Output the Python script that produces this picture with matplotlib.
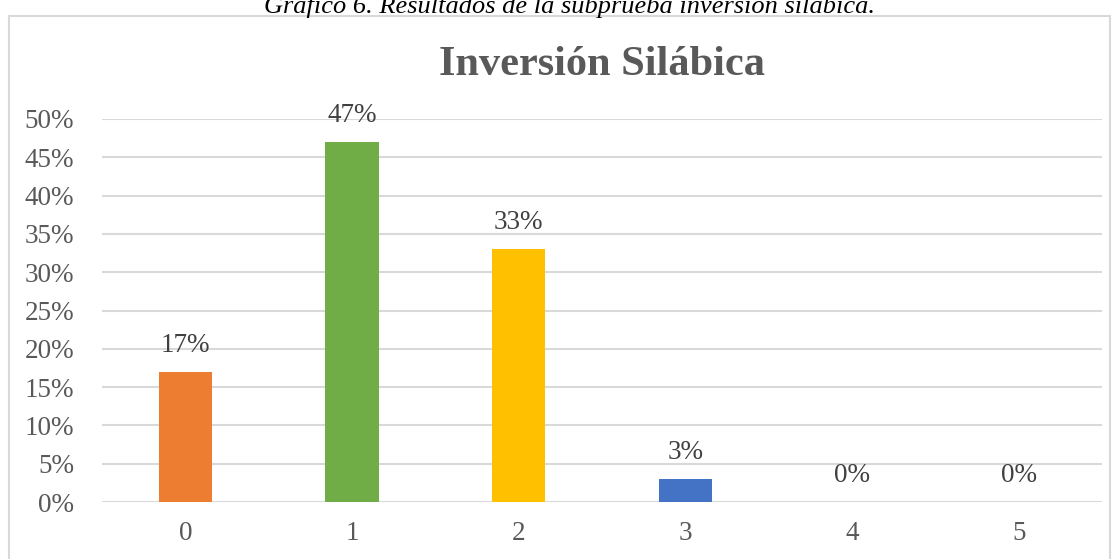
import matplotlib.pyplot as plt
from matplotlib.patches import Rectangle

# data
categories = ["0", "1", "2", "3", "4", "5"]
values = [17, 47, 33, 3, 0, 0]
bar_colors = ["#ED7D31", "#70AD47", "#FFC000", "#4472C4", "#A5A5A5", "#5B9BD5"]
y_ticks = [0, 5, 10, 15, 20, 25, 30, 35, 40, 45, 50]

plt.rcParams['font.family'] = ['Liberation Serif', 'DejaVu Serif']

fig = plt.figure(figsize=(11.17, 5.59), dpi=100)
W, H = 1117, 559

# axes placed in pixel coords
left, right, top, bottom = 102, 1102, 119, 502
ax = fig.add_axes([left / W, 1 - bottom / H, (right - left) / W, (bottom - top) / H])

x = list(range(len(categories)))
ax.bar(x, values, width=0.32, color=bar_colors, zorder=3)

ax.set_xlim(-0.5, len(categories) - 0.5)
ax.set_ylim(0, 50)
ax.set_yticks(y_ticks)
ax.set_yticklabels([f"{t}%" for t in y_ticks])
ax.set_xticks(x)
ax.set_xticklabels(categories)

ax.tick_params(axis='both', length=0, labelsize=19.5, colors='#595959')
ax.tick_params(axis='y', pad=20)
ax.tick_params(axis='x', pad=14)

for s in ax.spines.values():
    s.set_visible(False)
ax.yaxis.grid(True, color='#D9D9D9', linewidth=1.5)
ax.set_axisbelow(True)

# data labels
for xi, v in zip(x, values):
    ax.annotate(f"{v}%", (xi, v), xytext=(0, 10), textcoords='offset points',
                ha='center', va='bottom', fontsize=19.5, color='#404040')

# title
fig.text(602 / W, 1 - 65 / H, "Inversión Silábica", ha='center', va='center',
         fontsize=30.5, fontweight='bold', color='#595959')

# outer chart border
fig.patches.append(Rectangle((9 / W, -0.2), (1110 - 9) / W, 1.2 - 16 / H,
                             transform=fig.transFigure, fill=False,
                             edgecolor='#D9D9D9', linewidth=1.5))

# caption cut at the top
fig.text(570 / W, 1 - 13 / H, "Gráfico 6. Resultados de la subprueba inversión silábica.",
         ha='center', va='baseline', fontsize=19, style='italic', color='black')

fig.savefig("out.png", dpi=100)
